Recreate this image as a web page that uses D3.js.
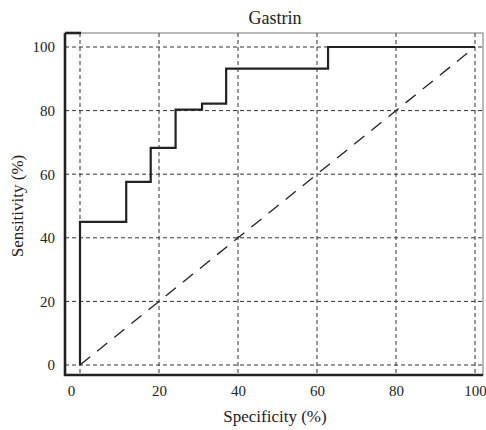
<!DOCTYPE html>
<html>
<head>
    <style>
        body { margin: 0; background: #fff; }
        svg text { font-family: "Liberation Serif", "Times New Roman", Times, serif; fill: #222; }
        .grid line { stroke: #333; stroke-width: 1; stroke-dasharray: 4,3; }
        .title { font-size: 18px; text-anchor: middle; }
        .label { font-size: 17px; text-anchor: middle; }
    </style>
    <script src="https://d3js.org/d3.v7.min.js"></script>
</head>
<body>
    <svg width="486" height="430"></svg>
    <script>
        // ROC steps
        var specificity = [0, 0, 11.7, 17.9, 24.2, 30.9, 37.0, 62.8, 100];
        var sensitivity = [0, 45.0, 57.6, 68.3, 80.3, 82.2, 93.2, 100, 100];
        var xTicks = [0, 20, 40, 60, 80, 100];
        var yTicks = [0, 20, 40, 60, 80, 100];

        var serif = "'Liberation Serif', 'Times New Roman', Times, serif";
        var svg = d3.select("svg");
        var frame = {left: 65, top: 33, right: 483, bottom: 375};

        var x = d3.scaleLinear().domain([0, 100]).range([80, 475]);
        var y = d3.scaleLinear().domain([0, 100]).range([365, 47]);

        // thin frame
        svg.append("rect")
            .attr("x", frame.left).attr("y", frame.top)
            .attr("width", frame.right - frame.left).attr("height", frame.bottom - frame.top)
            .attr("fill", "none").attr("stroke", "#777").attr("stroke-width", 1);

        // grid
        svg.append("g").attr("class", "grid")
            .selectAll("line").data(xTicks).enter().append("line")
            .attr("x1", function(d){ return x(d); }).attr("x2", function(d){ return x(d); })
            .attr("y1", frame.top).attr("y2", frame.bottom);
        svg.append("g").attr("class", "grid")
            .selectAll("line").data(yTicks).enter().append("line")
            .attr("y1", function(d){ return y(d); }).attr("y2", function(d){ return y(d); })
            .attr("x1", frame.left).attr("x2", frame.right);

        // tick labels
        var xAxis = svg.append("g").attr("transform", "translate(0," + frame.bottom + ")")
            .call(d3.axisBottom(x).tickValues(xTicks).tickSize(0).tickPadding(10))
            .attr("font-family", serif).attr("font-size", 15);
        xAxis.select(".domain").remove();
        xAxis.selectAll(".tick text").attr("dx", function(d){ return d === 0 ? -9 : 0; });

        var yAxis = svg.append("g").attr("transform", "translate(" + frame.left + ",0)")
            .call(d3.axisLeft(y).tickValues(yTicks).tickSize(0).tickPadding(10))
            .attr("font-family", serif).attr("font-size", 15);
        yAxis.select(".domain").remove();

        // thick axis lines
        var axisPath = "M" + frame.left + "," + frame.top + "V" + frame.bottom + "H" + frame.right;
        svg.append("path").attr("d", axisPath)
            .attr("fill", "none").attr("stroke", "#222").attr("stroke-width", 2.6);
        svg.append("line")
            .attr("x1", frame.left).attr("x2", 81).attr("y1", frame.top).attr("y2", frame.top)
            .attr("stroke", "#222").attr("stroke-width", 2.6);

        // chance diagonal
        svg.append("line")
            .attr("x1", x(0)).attr("y1", y(0)).attr("x2", x(100)).attr("y2", y(100))
            .attr("stroke", "#222").attr("stroke-width", 1.3)
            .attr("stroke-dasharray", "13,9");

        // ROC curve
        var pts = specificity.map(function(s, i){ return [s, sensitivity[i]]; });
        var line = d3.line()
            .x(function(d){ return x(d[0]); })
            .y(function(d){ return y(d[1]); })
            .curve(d3.curveStepAfter);
        svg.append("path").datum(pts).attr("d", line)
            .attr("fill", "none").attr("stroke", "#222").attr("stroke-width", 2.2);

        svg.append("text").attr("class", "title").attr("x", 275).attr("y", 24)
            .attr("font-family", serif).text("Gastrin");
        svg.append("text").attr("class", "label").attr("x", 275).attr("y", 422)
            .attr("font-family", serif).text("Specificity (%)");
        svg.append("text").attr("class", "label")
            .attr("font-family", serif)
            .attr("transform", "translate(23,206) rotate(-90)").text("Sensitivity (%)");
    </script>
</body>
</html>
